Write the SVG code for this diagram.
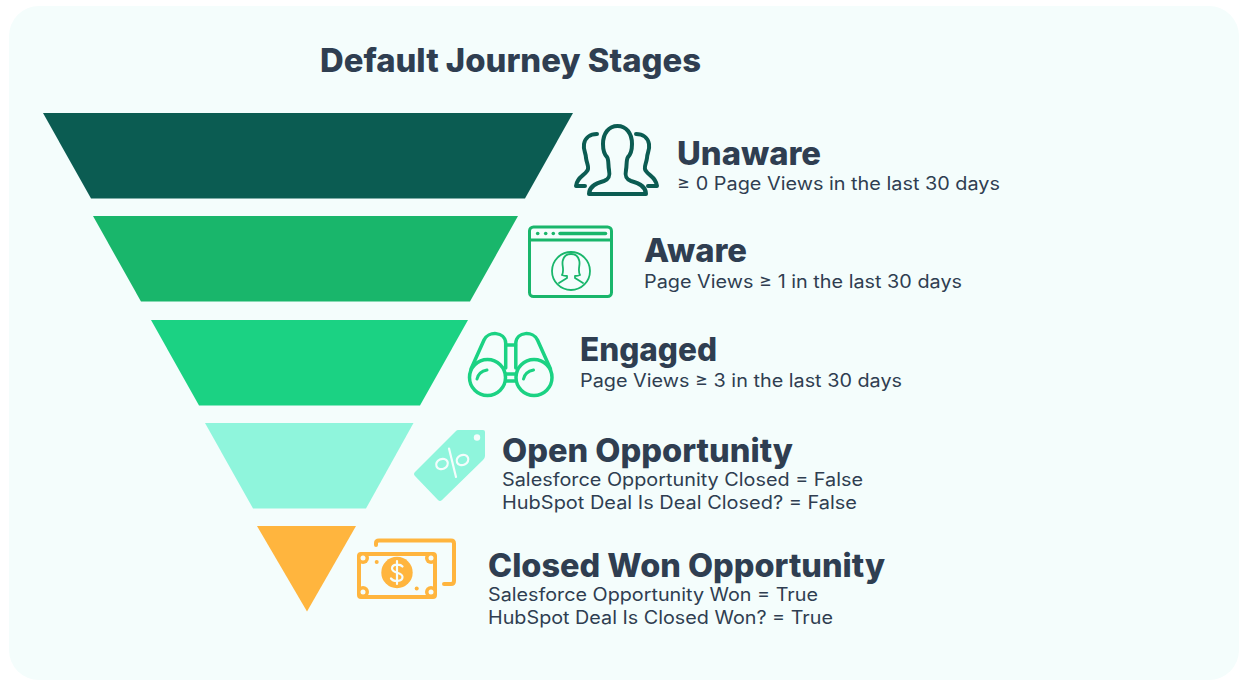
<svg xmlns="http://www.w3.org/2000/svg" width="1249" height="689" viewBox="0 0 1249 689">
<style>
text{font-family:"Inter","Open Sans","Liberation Sans",sans-serif;fill:#2f3e51}
.h{font-weight:800;font-size:32px}
.s{font-size:18px;font-weight:400}
.i{fill:none;stroke-linecap:round;stroke-linejoin:round}
</style>
<rect width="1249" height="689" fill="#fff"/>
<rect x="9" y="6" width="1230" height="674" rx="30" fill="#f4fdfc"/>
<text id="title" x="320" y="71.500" class="h" textLength="381" lengthAdjust="spacingAndGlyphs">Default Journey Stages</text>
<g id="unaware">
<polygon points="43,113 573,113 525,198.500 91,198.500" fill="#0b5c52"/>
<g class="i" stroke="#0b5c52" stroke-width="4">
<path d="M597,134C590,134 585,138 584,144C583,150 586,153 586,158C587,165 590,168 587,171C584,176 577,177 576,186H585"/>
<path d="M636,134C643,134 648,138 649,144C650,150 647,153 647,158C646,165 643,168 646,171C649,176 656,177 657,186H648"/>
<path d="M589,194C589,187 596,183 604,181C610,179 610,175 609,170C608,165 609,160 607,157C604,154 603,150 603,144C603,133 609,126 617.500,126C626,126 632,133 632,144C632,150 631,154 628,157C626,160 627,165 626,170C625,175 625,179 631,181C639,183 646,187 646,194Z"/>
</g>
</g>
<text x="677" y="164.500" class="h" textLength="144" lengthAdjust="spacingAndGlyphs">Unaware</text>
<text x="677" y="190" class="s" textLength="323" lengthAdjust="spacingAndGlyphs">≥ 0 Page Views in the last 30 days</text>
<g id="aware">
<polygon points="93,216 518,216 470,301.500 141,301.500" fill="#19b66b"/>
<g class="i" stroke="#19b66b">
<rect x="529.500" y="227" width="82" height="69.500" rx="4" stroke-width="3"/>
<path d="M530,240H611" stroke-width="3"/>
<path d="M560,233.500H605.500" stroke-width="3.500"/>
<circle cx="571" cy="271" r="19" stroke-width="1.800"/>
<path d="M562,275C565,270 561,264 563,260C565,252 577,252 579,260C581,264 577,270 580,275C578,276 576,276 575,276V278L583,283M567,278V276C566,276 564,276 562,275M567,278L559,283" stroke-width="1.800"/>
</g>
<g fill="#19b66b"><circle cx="537.700" cy="233.500" r="1.800"/><circle cx="545.700" cy="233.500" r="1.800"/><circle cx="553.300" cy="233.500" r="1.800"/></g>
</g>
<text x="644" y="261.500" class="h" textLength="103" lengthAdjust="spacingAndGlyphs">Aware</text>
<text x="644" y="288" class="s" textLength="318" lengthAdjust="spacingAndGlyphs">Page Views ≥ 1 in the last 30 days</text>
<g id="engaged">
<polygon points="151,320 468,320 420,405.500 199,405.500" fill="#1bd283"/>
<g class="i" stroke="#1bd283" stroke-width="3.500">
<circle cx="487.500" cy="377.500" r="18"/><circle cx="534" cy="377.500" r="18"/>
<path d="M471,369L484,340C488,331 505,331 505.700,343V368"/>
<path d="M550.500,369L537.500,340C533.500,331 516.500,331 515.800,343V368"/>
<path d="M506,345H515.500M506,374H515.500M506,381H515.500"/>
<path d="M477,379C478,374 482,371 487,370M523.500,379C524.500,374 528.500,371 533.500,370" stroke-width="3"/>
</g>
</g>
<text x="580" y="360.500" class="h" textLength="137" lengthAdjust="spacingAndGlyphs">Engaged</text>
<text x="580" y="387" class="s" textLength="322" lengthAdjust="spacingAndGlyphs">Page Views ≥ 3 in the last 30 days</text>
<g id="open-opportunity">
<polygon points="205,423 413.500,423 366,508.500 253,508.500" fill="#8ff5dc"/>
<path d="M458,430H483Q485,430 485,432V456Q485,458 483,460L442,500Q440,502 438,500L415,476Q413,474 415,472L456,431Q457,430 458,430Z" fill="#8ff5dc"/>
<circle cx="477" cy="437.500" r="3.200" fill="#f4fdfc"/>
<g class="i" stroke="#f4fdfc" stroke-width="2.200"><ellipse cx="442" cy="464" rx="6" ry="5" transform="rotate(-25 442 464)"/><ellipse cx="462.500" cy="460" rx="6" ry="5" transform="rotate(-25 462.500 460)"/><path d="M449,448.500L456,477"/></g>
</g>
<text x="502" y="461.500" class="h" textLength="291" lengthAdjust="spacingAndGlyphs">Open Opportunity</text>
<text x="502" y="486" class="s" textLength="361" lengthAdjust="spacingAndGlyphs">Salesforce Opportunity Closed = False</text>
<text x="502" y="509" class="s" textLength="355" lengthAdjust="spacingAndGlyphs">HubSpot Deal Is Deal Closed? = False</text>
<g id="closed-won">
<polygon points="257,526 356,526 307,611.500" fill="#ffb53e"/>
<g class="i" stroke="#ffb53e">
<path d="M376,545V543Q376,540.500 379,540.500H451Q454,540.500 454,543.500V581Q454,584 451,584H444" stroke-width="4"/>
<rect x="359" y="554" width="76" height="43" rx="2" stroke-width="4"/>
</g>
<g fill="#ffb53e"><circle cx="397" cy="572.500" r="15.700"/>
<circle cx="363" cy="558" r="6"/><circle cx="431" cy="558" r="6"/><circle cx="363" cy="592" r="6"/><circle cx="431" cy="592" r="6"/>
<circle cx="376.700" cy="562" r="2"/><circle cx="416.700" cy="588.500" r="2"/></g>
<g fill="#f4fdfc"><circle cx="363" cy="558" r="2.500"/><circle cx="431" cy="558" r="2.500"/><circle cx="363" cy="592" r="2.500"/><circle cx="431" cy="592" r="2.500"/></g>
<path d="M402.500,566.500C400,563.500 392,564 392,568.500C392,573.500 402.500,572 402.500,577C402.500,582 393.500,582 391,578.500M397,561V584" fill="none" stroke="#f4fdfc" stroke-width="2.200" stroke-linecap="round"/>
</g>
<text x="488" y="576.500" class="h" textLength="397" lengthAdjust="spacingAndGlyphs">Closed Won Opportunity</text>
<text x="488" y="601" class="s" textLength="330" lengthAdjust="spacingAndGlyphs">Salesforce Opportunity Won = True</text>
<text x="488" y="624" class="s" textLength="345" lengthAdjust="spacingAndGlyphs">HubSpot Deal Is Closed Won? = True</text>
</svg>
